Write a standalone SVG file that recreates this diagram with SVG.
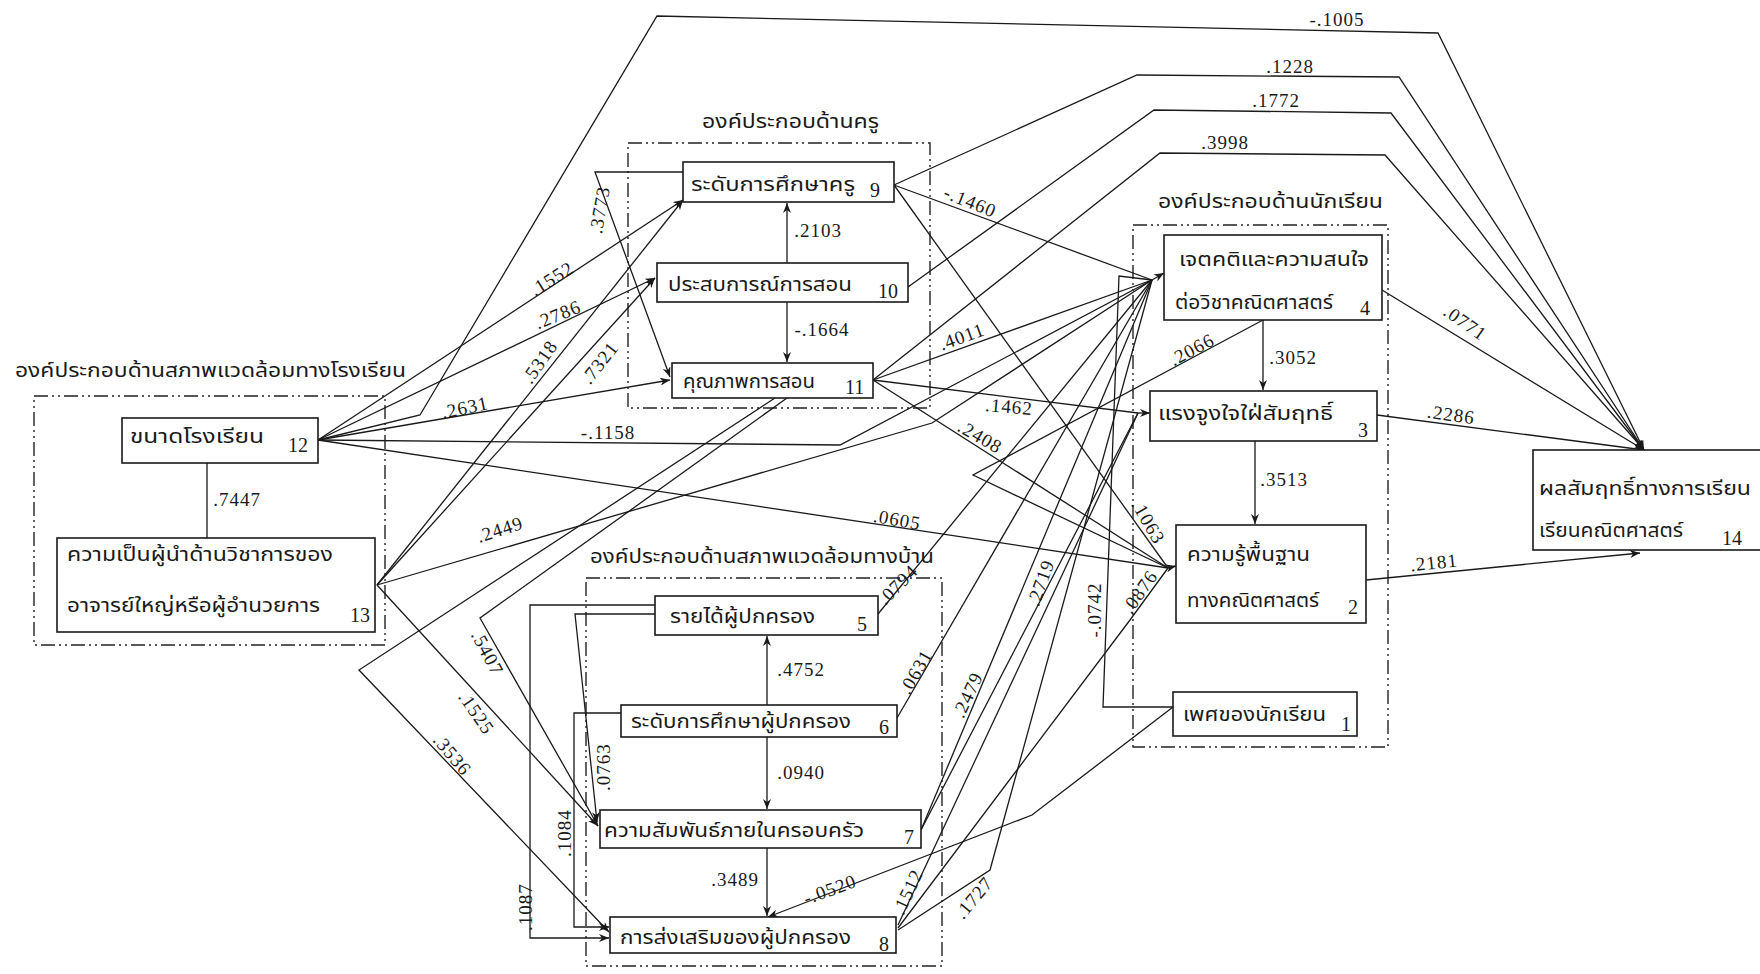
<svg xmlns="http://www.w3.org/2000/svg" width="1760" height="974" viewBox="0 0 1760 974">
<style>
.bg{fill:#fff}
.grp{fill:none;stroke:#222;stroke-width:1.4;stroke-dasharray:14 4 2 4 2 4}
.box{fill:#fff;stroke:#1a1a1a;stroke-width:1.6}
.c{fill:none;stroke:#1a1a1a;stroke-width:1.3}
.a{marker-end:url(#ah)}
.th{font-family:"Noto Sans Thai","Noto Sans","DejaVu Sans",sans-serif;font-size:20px;fill:#1a1a1a}
.tt{font-family:"Noto Sans Thai","Noto Sans","DejaVu Sans",sans-serif;font-size:20px;fill:#1a1a1a}
.num{font-family:"Liberation Serif",serif;font-size:20px;fill:#1a1a1a}
.lbl{font-family:"Liberation Serif",serif;font-size:19px;fill:#1a1a1a;letter-spacing:1px;text-anchor:middle}
</style>
<defs>
<marker id="ah" viewBox="0 0 10 8" refX="10" refY="4" markerWidth="10" markerHeight="8" markerUnits="userSpaceOnUse" orient="auto">
<path d="M0,0 L10,4 L0,8 L3,4 z" fill="#1a1a1a"/>
</marker>
</defs>
<rect class="bg" x="0" y="0" width="1760" height="974"/>

<g id="groups">
<g id="grp-school"><rect class="grp" x="34" y="396" width="351" height="249"/><text class="tt" x="15" y="377" textLength="391" lengthAdjust="spacingAndGlyphs">องค์ประกอบด้านสภาพแวดล้อมทางโรงเรียน</text></g>
<g id="grp-teacher"><rect class="grp" x="628" y="143" width="302" height="265"/><text class="tt" x="702" y="128" textLength="177" lengthAdjust="spacingAndGlyphs">องค์ประกอบด้านครู</text></g>
<g id="grp-home"><rect class="grp" x="586" y="578" width="356" height="388"/><text class="tt" x="590" y="563" textLength="344" lengthAdjust="spacingAndGlyphs">องค์ประกอบด้านสภาพแวดล้อมทางบ้าน</text></g>
<g id="grp-student"><rect class="grp" x="1133" y="225" width="255" height="522"/><text class="tt" x="1158" y="208" textLength="225" lengthAdjust="spacingAndGlyphs">องค์ประกอบด้านนักเรียน</text></g>
</g>

<g id="connectors">
<path class="c" d="M207,463 V538"/>
<path class="c a" d="M318,440 L683,200"/>
<path class="c a" d="M318,440 L655,278"/>
<path class="c a" d="M318,440 L670,380"/>
<path class="c a" d="M318,440 L420,415 L657,16 L1438,33 L1644,450"/>
<path class="c" d="M318,440 L840,445 L1152,280"/>
<path class="c" d="M318,440 L1168,568"/>
<path class="c a" d="M377,585 L683,200"/>
<path class="c a" d="M377,585 L655,278"/>
<path class="c" d="M377,585 L932,423 L1152,280"/>
<path class="c a" d="M377,585 L598,826"/>
<path class="c a" d="M683,172 L595,172 L670,377"/>
<path class="c a" d="M787,263 L787,203"/>
<path class="c a" d="M787,302 L787,362"/>
<path class="c a" d="M894,185 L1137,75 L1399,77 L1644,450"/>
<path class="c a" d="M908,287 L1154,110 L1391,113 L1644,450"/>
<path class="c a" d="M873,380 L1160,153 L1385,155 L1644,450"/>
<path class="c" d="M894,185 L1152,280"/>
<path class="c" d="M894,185 L1168,568"/>
<path class="c" d="M873,380 L1152,280"/>
<path class="c" d="M873,380 L1138,413"/>
<path class="c" d="M873,380 L1168,568"/>
<path class="c a" d="M787,398 L480,618 L598,826"/>
<path class="c a" d="M775,398 L359,670 L609,932"/>
<path class="c a" d="M1382,290 L1644,450"/>
<path class="c a" d="M1263,320 L1263,390"/>
<path class="c" d="M1263,320 L973,475 L1168,568"/>
<path class="c a" d="M1377,415 L1644,450"/>
<path class="c a" d="M1255,441 L1255,524"/>
<path class="c a" d="M1366,580 L1640,553"/>
<path class="c a" d="M767,705 L767,636"/>
<path class="c a" d="M767,737 L767,809"/>
<path class="c a" d="M767,848 L767,916"/>
<path class="c a" d="M655,614 L575,614 L597,822"/>
<path class="c a" d="M655,605 L530,605 L530,938 L609,938"/>
<path class="c a" d="M621,713 L574,713 L574,927 L609,927"/>
<path class="c a" d="M1173,707 L1032,815 L768,917"/>
<path class="c" d="M1173,707 L1103,707 L1119,276 L1152,280"/>
<path class="c" d="M898,928 L1130,620 L1168,568"/>
<path class="c" d="M898,930 L990,870 L1152,280"/>
<path class="c" d="M898,925 L1138,413"/>
<path class="c" d="M921,830 L1152,280"/>
<path class="c" d="M921,830 L1138,413"/>
<path class="c" d="M897,718 L1152,280"/>
<path class="c" d="M878,614 L1152,280"/>
<path class="c a" d="M1152,280 L1164,273"/>
<path class="c a" d="M1138,413 L1150,413"/>
<path class="c a" d="M1168,568 L1176,566"/>
<g id="edge-labels">
<text class="lbl" x="1337" y="26">-.1005</text>
<text class="lbl" x="1290" y="73">.1228</text>
<text class="lbl" x="1276" y="107">.1772</text>
<text class="lbl" x="1225" y="149">.3998</text>
<text class="lbl" x="818" y="237">.2103</text>
<text class="lbl" x="822" y="336">-.1664</text>
<text class="lbl" x="970" y="208" transform="rotate(22 970 202)">-.1460</text>
<text class="lbl" x="962" y="343" transform="rotate(-20 962 337)">.4011</text>
<text class="lbl" x="1009" y="413" transform="rotate(5 1009 407)">.1462</text>
<text class="lbl" x="980" y="443" transform="rotate(30 980 437)">.2408</text>
<text class="lbl" x="1192" y="356" transform="rotate(-28 1192 350)">.2066</text>
<text class="lbl" x="1293" y="364">.3052</text>
<text class="lbl" x="1284" y="486">.3513</text>
<text class="lbl" x="1451" y="421" transform="rotate(8 1451 415)">.2286</text>
<text class="lbl" x="1434" y="569" transform="rotate(-6 1434 563)">.2181</text>
<text class="lbl" x="1465" y="329" transform="rotate(35 1465 323)">.0771</text>
<text class="lbl" x="237" y="506">.7447</text>
<text class="lbl" x="465" y="414" transform="rotate(-12 465 408)">.2631</text>
<text class="lbl" x="608" y="439">-.1158</text>
<text class="lbl" x="500" y="536" transform="rotate(-18 500 530)">.2449</text>
<text class="lbl" x="897" y="526" transform="rotate(10 897 520)">.0605</text>
<text class="lbl" x="552" y="285" transform="rotate(-32 552 279)">.1552</text>
<text class="lbl" x="558" y="321" transform="rotate(-22 558 315)">.2786</text>
<text class="lbl" x="540" y="368" transform="rotate(-55 540 362)">.5318</text>
<text class="lbl" x="600" y="369" transform="rotate(-52 600 363)">.7321</text>
<text class="lbl" x="600" y="216" transform="rotate(-80 600 210)">.3773</text>
<text class="lbl" x="476" y="719" transform="rotate(55 476 713)">.1525</text>
<text class="lbl" x="452" y="761" transform="rotate(50 452 755)">.3536</text>
<text class="lbl" x="487" y="659" transform="rotate(62 487 653)">.5407</text>
<text class="lbl" x="604" y="773" transform="rotate(-90 604 767)">.0763</text>
<text class="lbl" x="565" y="839" transform="rotate(-90 565 833)">.1084</text>
<text class="lbl" x="526" y="913" transform="rotate(-90 526 907)">.1087</text>
<text class="lbl" x="801" y="676">.4752</text>
<text class="lbl" x="801" y="779">.0940</text>
<text class="lbl" x="735" y="886">.3489</text>
<text class="lbl" x="830" y="896" transform="rotate(-20 830 890)">-.0520</text>
<text class="lbl" x="898" y="591" transform="rotate(-45 898 585)">.0794</text>
<text class="lbl" x="916" y="678" transform="rotate(-60 916 672)">.0631</text>
<text class="lbl" x="968" y="701" transform="rotate(-65 968 695)">.2479</text>
<text class="lbl" x="1041" y="589" transform="rotate(-70 1041 583)">.2719</text>
<text class="lbl" x="1095" y="616" transform="rotate(-90 1095 610)">-.0742</text>
<text class="lbl" x="1140" y="598" transform="rotate(-55 1140 592)">.0876</text>
<text class="lbl" x="1148" y="528" transform="rotate(60 1148 522)">.1063</text>
<text class="lbl" x="908" y="898" transform="rotate(-65 908 892)">.1512</text>
<text class="lbl" x="974" y="904" transform="rotate(-50 974 898)">.1727</text>
</g>
</g>

<g id="n12"><rect class="box" x="122" y="418" width="196" height="45"/><text class="th" x="130" y="443" textLength="134" lengthAdjust="spacingAndGlyphs">ขนาดโรงเรียน</text><text class="num" x="288" y="452">12</text></g>
<g id="n13"><rect class="box" x="57" y="538" width="318" height="94"/><text class="th" x="67" y="561" textLength="266" lengthAdjust="spacingAndGlyphs">ความเป็นผู้นำด้านวิชาการของ</text><text class="th" x="67" y="612" textLength="253" lengthAdjust="spacingAndGlyphs">อาจารย์ใหญ่หรือผู้อำนวยการ</text><text class="num" x="350" y="622">13</text></g>
<g id="n9"><rect class="box" x="683" y="162" width="211" height="40"/><text class="th" x="691" y="191" textLength="164" lengthAdjust="spacingAndGlyphs">ระดับการศึกษาครู</text><text class="num" x="870" y="197">9</text></g>
<g id="n10"><rect class="box" x="657" y="263" width="251" height="39"/><text class="th" x="668" y="291" textLength="184" lengthAdjust="spacingAndGlyphs">ประสบการณ์การสอน</text><text class="num" x="878" y="298">10</text></g>
<g id="n11"><rect class="box" x="672" y="363" width="201" height="35"/><text class="th" x="683" y="388" textLength="132" lengthAdjust="spacingAndGlyphs">คุณภาพการสอน</text><text class="num" x="845" y="394">11</text></g>
<g id="n5"><rect class="box" x="655" y="596" width="223" height="39"/><text class="th" x="670" y="623" textLength="145" lengthAdjust="spacingAndGlyphs">รายได้ผู้ปกครอง</text><text class="num" x="857" y="631">5</text></g>
<g id="n6"><rect class="box" x="621" y="705" width="276" height="32"/><text class="th" x="631" y="728" textLength="220" lengthAdjust="spacingAndGlyphs">ระดับการศึกษาผู้ปกครอง</text><text class="num" x="879" y="734">6</text></g>
<g id="n7"><rect class="box" x="600" y="810" width="321" height="38"/><text class="th" x="604" y="837" textLength="260" lengthAdjust="spacingAndGlyphs">ความสัมพันธ์ภายในครอบครัว</text><text class="num" x="904" y="844">7</text></g>
<g id="n8"><rect class="box" x="610" y="917" width="286" height="36"/><text class="th" x="620" y="944" textLength="231" lengthAdjust="spacingAndGlyphs">การส่งเสริมของผู้ปกครอง</text><text class="num" x="879" y="951">8</text></g>
<g id="n4"><rect class="box" x="1164" y="235" width="218" height="85"/><text class="th" x="1179" y="266" textLength="190" lengthAdjust="spacingAndGlyphs">เจตคติและความสนใจ</text><text class="th" x="1175" y="309" textLength="158" lengthAdjust="spacingAndGlyphs">ต่อวิชาคณิตศาสตร์</text><text class="num" x="1360" y="315">4</text></g>
<g id="n3"><rect class="box" x="1150" y="391" width="227" height="50"/><text class="th" x="1158" y="420" textLength="175" lengthAdjust="spacingAndGlyphs">แรงจูงใจใฝ่สัมฤทธิ์</text><text class="num" x="1358" y="437">3</text></g>
<g id="n2"><rect class="box" x="1176" y="525" width="190" height="98"/><text class="th" x="1187" y="561" textLength="123" lengthAdjust="spacingAndGlyphs">ความรู้พื้นฐาน</text><text class="th" x="1187" y="607" textLength="132" lengthAdjust="spacingAndGlyphs">ทางคณิตศาสตร์</text><text class="num" x="1348" y="614">2</text></g>
<g id="n1"><rect class="box" x="1173" y="692" width="184" height="44"/><text class="th" x="1183" y="721" textLength="143" lengthAdjust="spacingAndGlyphs">เพศของนักเรียน</text><text class="num" x="1341" y="731">1</text></g>
<g id="n14"><rect class="box" x="1533" y="450" width="240" height="100"/><text class="th" x="1539" y="495" textLength="212" lengthAdjust="spacingAndGlyphs">ผลสัมฤทธิ์ทางการเรียน</text><text class="th" x="1539" y="537" textLength="144" lengthAdjust="spacingAndGlyphs">เรียนคณิตศาสตร์</text><text class="num" x="1722" y="545">14</text></g>
</svg>
